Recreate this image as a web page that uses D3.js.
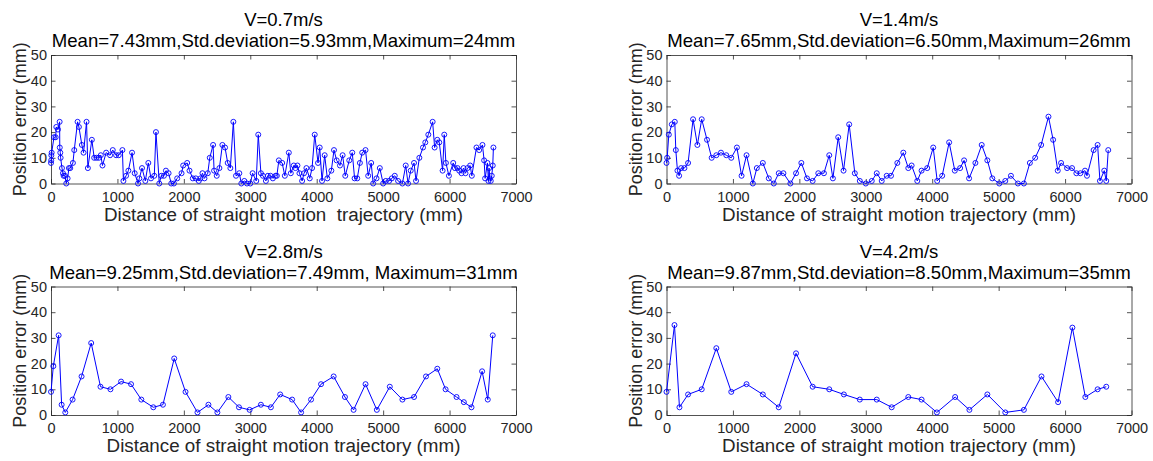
<!DOCTYPE html>
<html>
<head>
<meta charset="utf-8">
<script src="https://cdn.jsdelivr.net/npm/d3@7"></script>
<style>
  html, body { margin: 0; padding: 0; background: #fff; }
  svg { display: block; }
  text { font-family: "Liberation Sans", Arial, sans-serif; }
</style>
</head>
<body>
<svg id="chart" width="1153" height="461"></svg>
<script>
// Position error along the straight trajectory, one run per speed.
const dist07 = [0,3,5,10,45,70,80,105,130,132,140,145,165,180,190,210,230,250,270,290,330,350,400,420,465,490,535,555,615,650,685,720,750,775,830,890,930,980,1020,1075,1090,1130,1165,1220,1260,1310,1330,1370,1420,1465,1505,1555,1580,1630,1660,1700,1730,1770,1810,1850,1900,1965,1990,2050,2085,2135,2180,2225,2250,2280,2310,2360,2390,2440,2455,2495,2535,2580,2620,2660,2700,2745,2785,2835,2865,2910,2950,3000,3035,3090,3120,3160,3190,3235,3265,3305,3340,3380,3400,3430,3480,3520,3580,3610,3655,3680,3710,3740,3780,3810,3845,3895,3930,3970,4020,4045,4080,4120,4160,4220,4260,4300,4350,4390,4430,4490,4535,4570,4610,4650,4685,4735,4775,4820,4850,4900,4950,5000,5040,5090,5130,5175,5225,5290,5340,5375,5415,5465,5495,5545,5600,5635,5680,5745,5775,5815,5845,5895,5920,5945,5990,6055,6080,6120,6145,6180,6210,6240,6270,6310,6335,6405,6445,6495,6520,6535,6570,6585,6595,6605,6620,6635,6650,6660];
const err07  = [8,9,11,12,18,18,22,21,24,14,12,10,6,4,3,3,0,2,6,6,8,13,24,22,15,12,24,6,17,10,10,10,11,7,12,11,13,11,11,13,1,3,5,12,4,0,2,6,1,8,2,3,20,0,3,3,5,4,0,0,2,4,7,8,5,2,2,1,2,4,2,4,10,15,5,3,6,15,14,8,6,24,3,4,0,1,0,0,4,1,19,4,3,1,3,3,2,3,3,9,8,3,12,4,7,6,7,4,1,4,6,2,6,19,8,14,1,11,2,5,13,9,7,11,3,9,12,2,2,8,12,13,3,8,0,2,6,0,1,1,2,3,1,0,7,0,5,8,1,10,14,16,19,24,14,17,16,5,19,8,3,8,6,6,5,4,6,4,6,7,3,14,13,15,9,2,8,1,6,2,1,3,7,14];

const dist14 = [0,10,35,80,125,140,165,190,220,270,325,400,465,530,610,680,750,820,900,975,1060,1130,1205,1300,1360,1450,1540,1615,1690,1760,1865,1950,2030,2115,2200,2285,2370,2450,2505,2585,2665,2750,2835,2910,3000,3090,3165,3240,3315,3380,3475,3565,3640,3690,3775,3840,3925,4015,4075,4150,4255,4340,4420,4480,4555,4650,4745,4830,4905,5010,5100,5185,5290,5380,5470,5550,5640,5750,5820,5890,5940,6030,6105,6170,6230,6300,6330,6430,6490,6525,6590,6620,6650];
const err14  = [8,10,19,23,24,13,5,3,6,6,8,25,15,25,17,10,11,12,11,10,14,3,11,0,6,8,2,0,4,4,0,4,8,2,1,4,4,11,2,18,5,23,4,1,0,1,4,1,3,3,8,12,6,7,1,5,6,14,1,3,16,5,6,9,2,8,15,9,2,0,1,3,0,0,8,10,15,26,17,5,8,6,6,4,4,5,3,13,15,1,5,1,13];

const dist28 = [0,35,115,160,215,325,460,605,745,895,1055,1205,1360,1540,1685,1855,2025,2205,2370,2505,2670,2830,2990,3160,3310,3450,3630,3765,3915,4065,4255,4425,4555,4735,4905,5100,5290,5465,5645,5815,5940,6105,6215,6330,6490,6575,6650];
const err28  = [9,19,31,4,1,6,15,28,11,10,13,12,6,3,4,22,9,1,4,1,7,3,2,4,3,8,6,1,6,12,15,7,2,12,2,11,6,7,15,18,10,7,5,3,17,6,31];

const dist42 = [0,120,195,325,530,750,975,1205,1450,1690,1950,2200,2450,2670,2910,3165,3390,3640,3840,4070,4345,4560,4830,5100,5380,5645,5895,6110,6305,6490,6620];
const err42  = [9,35,3,8,10,26,9,12,8,3,24,11,10,8,6,6,3,7,6,1,7,2,8,1,2,15,5,34,7,10,11];

const speedTitles = ["V=0.7m/s", "V=1.4m/s", "V=2.8m/s", "V=4.2m/s"];
const statLines = [
  "Mean=7.43mm,Std.deviation=5.93mm,Maximum=24mm",
  "Mean=7.65mm,Std.deviation=6.50mm,Maximum=26mm",
  "Mean=9.25mm,Std.deviation=7.49mm, Maximum=31mm",
  "Mean=9.87mm,Std.deviation=8.50mm,Maximum=35mm"
];
const xLabels = [
  "Distance of straight motion  trajectory (mm)",
  "Distance of straight motion trajectory (mm)",
  "Distance of straight motion trajectory (mm)",
  "Distance of straight motion trajectory (mm)"
];
const yLabel = "Position error (mm)";
const xTicks = [0,1000,2000,3000,4000,5000,6000,7000];
const yTicks = [0,10,20,30,40,50];

const runs = [
  { dist: dist07, err: err07 },
  { dist: dist14, err: err14 },
  { dist: dist28, err: err28 },
  { dist: dist42, err: err42 }
];

const svg = d3.select("#chart");
const axisColor = "#262626";
const lineColor = "#0000ff";

// plot rectangles: two columns, two rows
const colX = [51, 666.5];
const plotW = 465;
const rowY = [55, 286.5];
const plotH = 128.5;

runs.forEach((run, i) => {
  const col = i % 2, row = Math.floor(i / 2);
  const left = colX[col], top = rowY[row];
  const x = d3.scaleLinear().domain([0, 7000]).range([left, left + plotW]);
  const y = d3.scaleLinear().domain([0, 50]).range([top + plotH, top]);
  const g = svg.append("g");

  // axes: labelled bottom/left, plain ticks on top/right, ticks pointing inward
  const fmt = d3.format("d");
  const ax = [
    { a: d3.axisBottom(x).tickValues(xTicks).tickFormat(fmt).tickPadding(8), t: `translate(0,${top + plotH})` },
    { a: d3.axisLeft(y).tickValues(yTicks).tickFormat(fmt).tickPadding(4), t: `translate(${left},0)` },
    { a: d3.axisTop(x).tickValues(xTicks).tickFormat(""), t: `translate(0,${top})` },
    { a: d3.axisRight(y).tickValues(yTicks).tickFormat(""), t: `translate(${left + plotW},0)` }
  ];
  ax.forEach(({ a, t }) => {
    const ag = g.append("g").attr("transform", t)
      .call(a.tickSizeInner(-4.5).tickSizeOuter(0));
    ag.select(".domain").attr("stroke", axisColor).attr("stroke-width", 0.8);
    ag.selectAll(".tick line").attr("stroke", axisColor).attr("stroke-width", 0.8);
    ag.selectAll(".tick text")
      .attr("fill", axisColor)
      .style("font-size", "14.5px")
      .style("font-family", "'Liberation Sans', Arial, sans-serif");
  });

  // series
  const pts = run.dist.map((d, k) => [d, run.err[k]]);
  g.append("path")
    .datum(pts)
    .attr("fill", "none")
    .attr("stroke", lineColor)
    .attr("stroke-width", 1)
    .attr("d", d3.line().x(p => x(p[0])).y(p => y(p[1])));
  g.selectAll("circle.m")
    .data(pts)
    .join("circle")
    .attr("class", "m")
    .attr("cx", p => x(p[0]))
    .attr("cy", p => y(p[1]))
    .attr("r", 2.5)
    .attr("fill", "none")
    .attr("stroke", lineColor)
    .attr("stroke-width", 0.9);

  const cx = left + plotW / 2;
  // titles
  g.append("text")
    .attr("x", cx).attr("y", top - 29)
    .attr("text-anchor", "middle")
    .attr("fill", "#000")
    .style("font-size", "18.5px")
    .text(speedTitles[i]);
  g.append("text")
    .attr("x", cx).attr("y", top - 8)
    .attr("text-anchor", "middle")
    .attr("fill", "#000")
    .style("font-size", "18.6px")
    .style("white-space", "pre")
    .text(statLines[i]);

  // axis titles
  g.append("text")
    .attr("x", cx).attr("y", top + plotH + 37)
    .attr("text-anchor", "middle")
    .attr("fill", axisColor)
    .style("font-size", "18.8px")
    .style("white-space", "pre")
    .text(xLabels[i]);
  g.append("text")
    .attr("transform", `translate(${left - 25},${top + plotH / 2}) rotate(-90)`)
    .attr("text-anchor", "middle")
    .attr("fill", axisColor)
    .style("font-size", "18px")
    .text(yLabel);
});
</script>
</body>
</html>
